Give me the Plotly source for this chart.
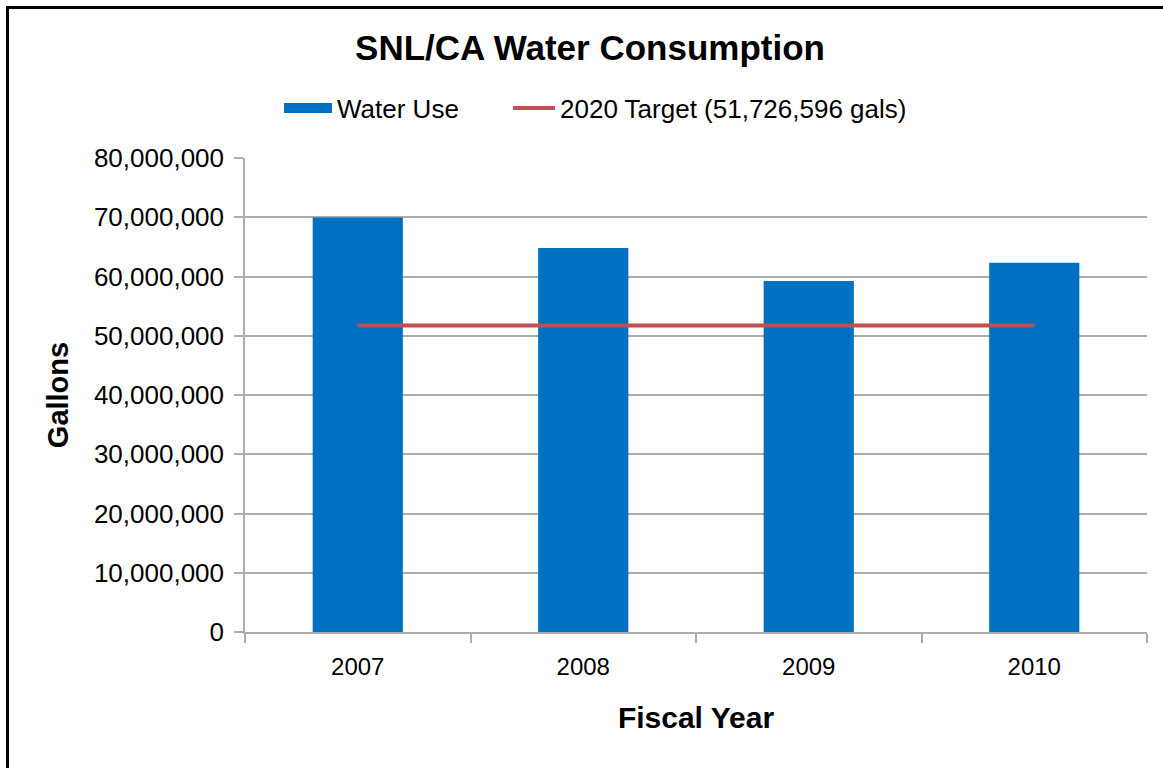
import plotly.graph_objects as go

years = ["2007", "2008", "2009", "2010"]
water_use = [69960000, 64790000, 59220000, 62310000]
target_value = 51726596
target_name = "2020 Target (51,726,596 gals)"
y_ticks = [0, 10000000, 20000000, 30000000, 40000000, 50000000, 60000000, 70000000, 80000000]

BLUE = "#0070C0"
RED = "#C0504D"
GRID = "#ADADAD"
FONT = "Liberation Sans, Arial, sans-serif"

fig = go.Figure()

fig.add_trace(go.Bar(
    x=years, y=water_use, name="Water Use", marker=dict(color=BLUE, line=dict(width=0)),
    width=0.4, showlegend=False,
))
# legend swatch for the bars (wide rectangle like the original)
fig.add_trace(go.Scatter(
    x=[None], y=[None], mode="lines", name="Water Use",
    line=dict(color=BLUE, width=14), showlegend=True, legend="legend",
))
fig.add_trace(go.Scatter(
    x=years, y=[target_value] * len(years), mode="lines", name=target_name,
    line=dict(color=RED, width=4), showlegend=True, legend="legend2",
))

L, R, T, B = 245, 16, 158, 136
W, H = 1163, 768
pw, ph = W - L - R, H - T - B

def px_x(p):
    return (p - L) / pw

def px_y(p):
    return (H - B - p) / ph

legend_common = dict(orientation="h", xanchor="left", yanchor="middle", y=px_y(108),
                     font=dict(size=26, family=FONT), bgcolor="rgba(0,0,0,0)", borderwidth=0)

fig.update_layout(
    width=W, height=H,
    margin=dict(l=L, r=R, t=T, b=B, pad=0),
    paper_bgcolor="white", plot_bgcolor="white",
    font=dict(family=FONT, size=24, color="black"),
    title=dict(text="<b>SNL/CA Water Consumption</b>", x=590 / W, xanchor="center",
               y=1 - 48 / H, yanchor="middle", font=dict(size=35, family=FONT)),
    legend=dict(x=px_x(279), itemwidth=48, **legend_common),
    legend2=dict(x=px_x(508), itemwidth=42, **legend_common),
    xaxis=dict(
        type="category", range=[-0.5, 3.5], showline=True, linecolor=GRID, linewidth=1.5,
        ticks="outside", tickson="boundaries", ticklen=9, tickcolor=GRID, tickwidth=1.5,
        showgrid=False, ticklabelstandoff=12, tickfont=dict(size=24),
        title=dict(text="<b>Fiscal Year</b>", font=dict(size=30, family=FONT), standoff=28),
    ),
    yaxis=dict(
        range=[0, 80000000], tickvals=y_ticks, tickformat=",", showline=True, linecolor=GRID,
        linewidth=1.5, ticks="outside", ticklen=9, tickcolor=GRID, tickwidth=1.5,
        showgrid=True, gridcolor=GRID, gridwidth=1.5, zeroline=False, ticklabelstandoff=5,
        tickfont=dict(size=26),
        title=dict(text="<b>Gallons</b>", font=dict(size=29, family=FONT), standoff=17),
    ),
    shapes=[dict(type="rect", xref="paper", yref="paper",
                 x0=px_x(7.5), x1=px_x(1220), y0=px_y(820), y1=px_y(7.5),
                 line=dict(color="black", width=3), fillcolor="rgba(0,0,0,0)", layer="below")],
)

fig.write_html("out.html", config={"displayModeBar": False},
               post_script="document.body.style.margin='0px';")
